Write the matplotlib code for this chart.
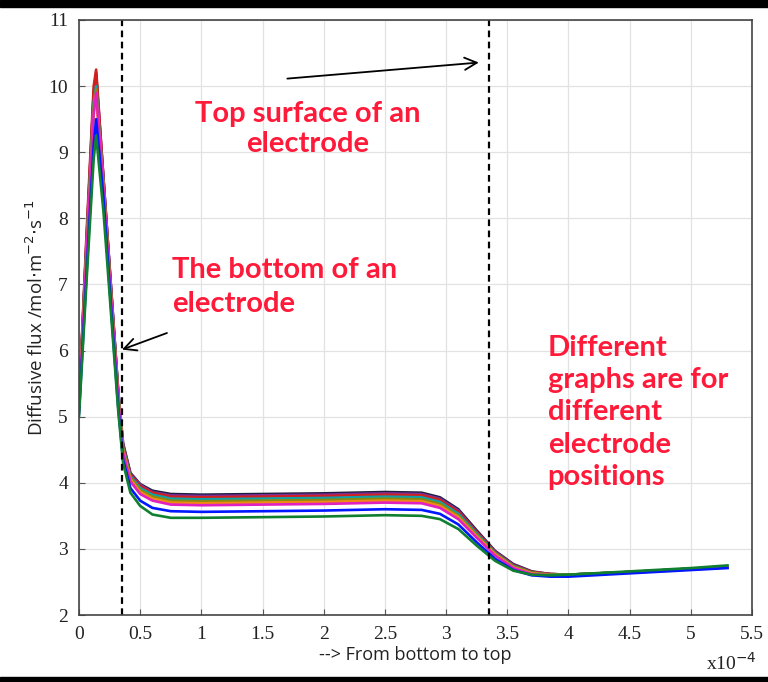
import matplotlib
matplotlib.use("Agg")
import matplotlib.pyplot as plt
from matplotlib.patches import Rectangle

# -----------------------------
# Data (x in units of 1e-4)
# -----------------------------
x_pos = [0, 0.06, 0.12, 0.14, 0.20, 0.26, 0.32, 0.36, 0.42, 0.50, 0.60, 0.75,
         1.0, 1.5, 2.0, 2.5, 2.8, 2.95, 3.1, 3.25, 3.4, 3.55, 3.7, 3.85, 4.0, 4.5, 5.0, 5.3]

flux_k = [5.2, 7.6, 9.9, 10.2, 8.6, 7.0, 5.4, 4.6, 4.15, 3.98, 3.88, 3.83,
          3.82, 3.83, 3.84, 3.86, 3.85, 3.78, 3.6, 3.28, 2.97, 2.77, 2.66, 2.62, 2.61, 2.65, 2.70, 2.72]
flux_purple = [5.2, 7.6, 9.9, 10.15, 8.6, 7.0, 5.4, 4.58, 4.14, 3.97, 3.86, 3.81,
               3.80, 3.81, 3.82, 3.84, 3.83, 3.76, 3.58, 3.26, 2.96, 2.76, 2.65, 2.62, 2.61, 2.65, 2.70, 2.72]
flux_red = [5.2, 7.7, 10.0, 10.25, 8.6, 7.0, 5.38, 4.56, 4.12, 3.95, 3.85, 3.79,
            3.78, 3.79, 3.80, 3.82, 3.81, 3.74, 3.56, 3.25, 2.95, 2.75, 2.65, 2.62, 2.61, 2.65, 2.70, 2.72]
flux_cyan = [5.15, 7.5, 9.75, 10.0, 8.5, 6.9, 5.35, 4.53, 4.10, 3.92, 3.82, 3.76,
             3.75, 3.76, 3.77, 3.79, 3.78, 3.71, 3.53, 3.23, 2.94, 2.74, 2.64, 2.61, 2.61, 2.65, 2.70, 2.72]
flux_olive = [5.15, 7.45, 9.7, 9.95, 8.5, 6.9, 5.32, 4.50, 4.08, 3.89, 3.79, 3.73,
              3.72, 3.73, 3.74, 3.76, 3.75, 3.68, 3.5, 3.21, 2.93, 2.73, 2.64, 2.61, 2.61, 2.65, 2.70, 2.72]
flux_orange = [5.1, 7.4, 9.55, 9.85, 8.45, 6.85, 5.3, 4.48, 4.05, 3.86, 3.76, 3.70,
               3.69, 3.70, 3.71, 3.73, 3.72, 3.65, 3.48, 3.19, 2.92, 2.72, 2.63, 2.60, 2.60, 2.64, 2.69, 2.72]
flux_magenta = [5.1, 7.4, 9.6, 9.9, 8.45, 6.85, 5.3, 4.45, 4.02, 3.83, 3.73, 3.67,
                3.66, 3.67, 3.68, 3.70, 3.69, 3.62, 3.45, 3.17, 2.9, 2.71, 2.62, 2.60, 2.60, 2.64, 2.69, 2.72]
flux_blue = [5.05, 7.1, 9.1, 9.5, 8.3, 6.7, 5.15, 4.35, 3.92, 3.73, 3.62, 3.57,
             3.56, 3.57, 3.58, 3.60, 3.59, 3.53, 3.37, 3.1, 2.85, 2.68, 2.6, 2.58, 2.58, 2.63, 2.68, 2.71]
flux_green = [5.0, 7.0, 8.9, 9.25, 8.1, 6.6, 5.1, 4.3, 3.85, 3.65, 3.52, 3.47,
              3.47, 3.48, 3.49, 3.51, 3.50, 3.45, 3.3, 3.05, 2.82, 2.67, 2.61, 2.60, 2.61, 2.66, 2.71, 2.75]

series = [
    (flux_k, "#1c1c3c"),
    (flux_purple, "#7a2f9a"),
    (flux_red, "#d02020"),
    (flux_cyan, "#10a0a8"),
    (flux_olive, "#8a8a10"),
    (flux_orange, "#f08a10"),
    (flux_magenta, "#e020c0"),
    (flux_blue, "#0018ff"),
    (flux_green, "#108030"),
]

bottom_edge = 0.35
top_edge = 3.35

x_ticks = [0, 0.5, 1, 1.5, 2, 2.5, 3, 3.5, 4, 4.5, 5, 5.5]
x_tick_labels = ["0", "0.5", "1", "1.5", "2", "2.5", "3", "3.5", "4", "4.5", "5", "5.5"]
y_ticks = [2, 3, 4, 5, 6, 7, 8, 9, 10, 11]

NOTE_COLOR = "#ff1a3a"
NOTE_FONT = "Lato"

# -----------------------------
# Figure
# -----------------------------
fig = plt.figure(figsize=(7.68, 6.82), dpi=100)
ax = fig.add_axes([79 / 768, 67 / 682, 673 / 768, 595 / 682])

for vals, col in series:
    ax.plot(x_pos, vals, color=col, linewidth=1.9, solid_joinstyle="round")

for xe in (bottom_edge, top_edge):
    ax.axvline(xe, color="black", linestyle=(0, (3, 2)), linewidth=1.6)

ax.set_xlim(0, 5.5)
ax.set_ylim(2, 11)
ax.set_xticks(x_ticks)
ax.set_xticklabels(x_tick_labels)
ax.set_yticks(y_ticks)
ax.grid(True, color="#e2e2e2", linewidth=0.9)
ax.set_axisbelow(True)
ax.tick_params(direction="in", length=4, color="#555555", pad=8,
               labelsize=14)
for lab in ax.get_xticklabels() + ax.get_yticklabels():
    lab.set_fontfamily("Liberation Serif")
    lab.set_color("#222222")
for sp in ax.spines.values():
    sp.set_color("#444444")
    sp.set_linewidth(1.2)

ax.set_xlabel("--> From bottom to top", fontsize=13, family="Open Sans",
              color="#222222", labelpad=2)
ax.set_ylabel("Diffusive flux /mol$\\cdot$m$^{-2}$$\\cdot$s$^{-1}$", fontsize=13.5,
              family="Open Sans", color="#222222", labelpad=1)
fig.text(706 / 768, 1 - 663 / 682, "x10$^{-4}$", fontsize=14,
         family="Liberation Serif", color="#222222", va="center")

# annotations
ax.text(1.87, 9.0, "Top surface of an\nelectrode", color=NOTE_COLOR,
        fontsize=21, fontweight="bold", family=NOTE_FONT, ha="center",
        va="baseline", linespacing=1.2)
ax.annotate("", xy=(3.29, 10.36), xytext=(1.68, 10.11),
            arrowprops=dict(arrowstyle="->", color="black", lw=1.3,
                            mutation_scale=22))

ax.text(0.76, 6.58, "The bottom of an\nelectrode", color=NOTE_COLOR,
        fontsize=21, fontweight="bold", family=NOTE_FONT, ha="left",
        va="baseline", linespacing=1.38)
ax.annotate("", xy=(0.33, 6.0), xytext=(0.74, 6.28),
            arrowprops=dict(arrowstyle="->", color="black", lw=1.3,
                            mutation_scale=22))

ax.text(3.83, 3.965, "Different\ngraphs are for\ndifferent\nelectrode\npositions",
        color=NOTE_COLOR, fontsize=21, fontweight="bold", family=NOTE_FONT,
        ha="left", va="baseline", linespacing=1.3)

# black strips at the top and bottom edges
fig.patches.append(Rectangle((0, 1 - 7 / 682), 1, 7 / 682, transform=fig.transFigure,
                             color="black", zorder=10))
fig.patches.append(Rectangle((0, 0), 1, 5 / 682, transform=fig.transFigure,
                             color="black", zorder=10))

fig.savefig("out.png", dpi=100, facecolor="white")
